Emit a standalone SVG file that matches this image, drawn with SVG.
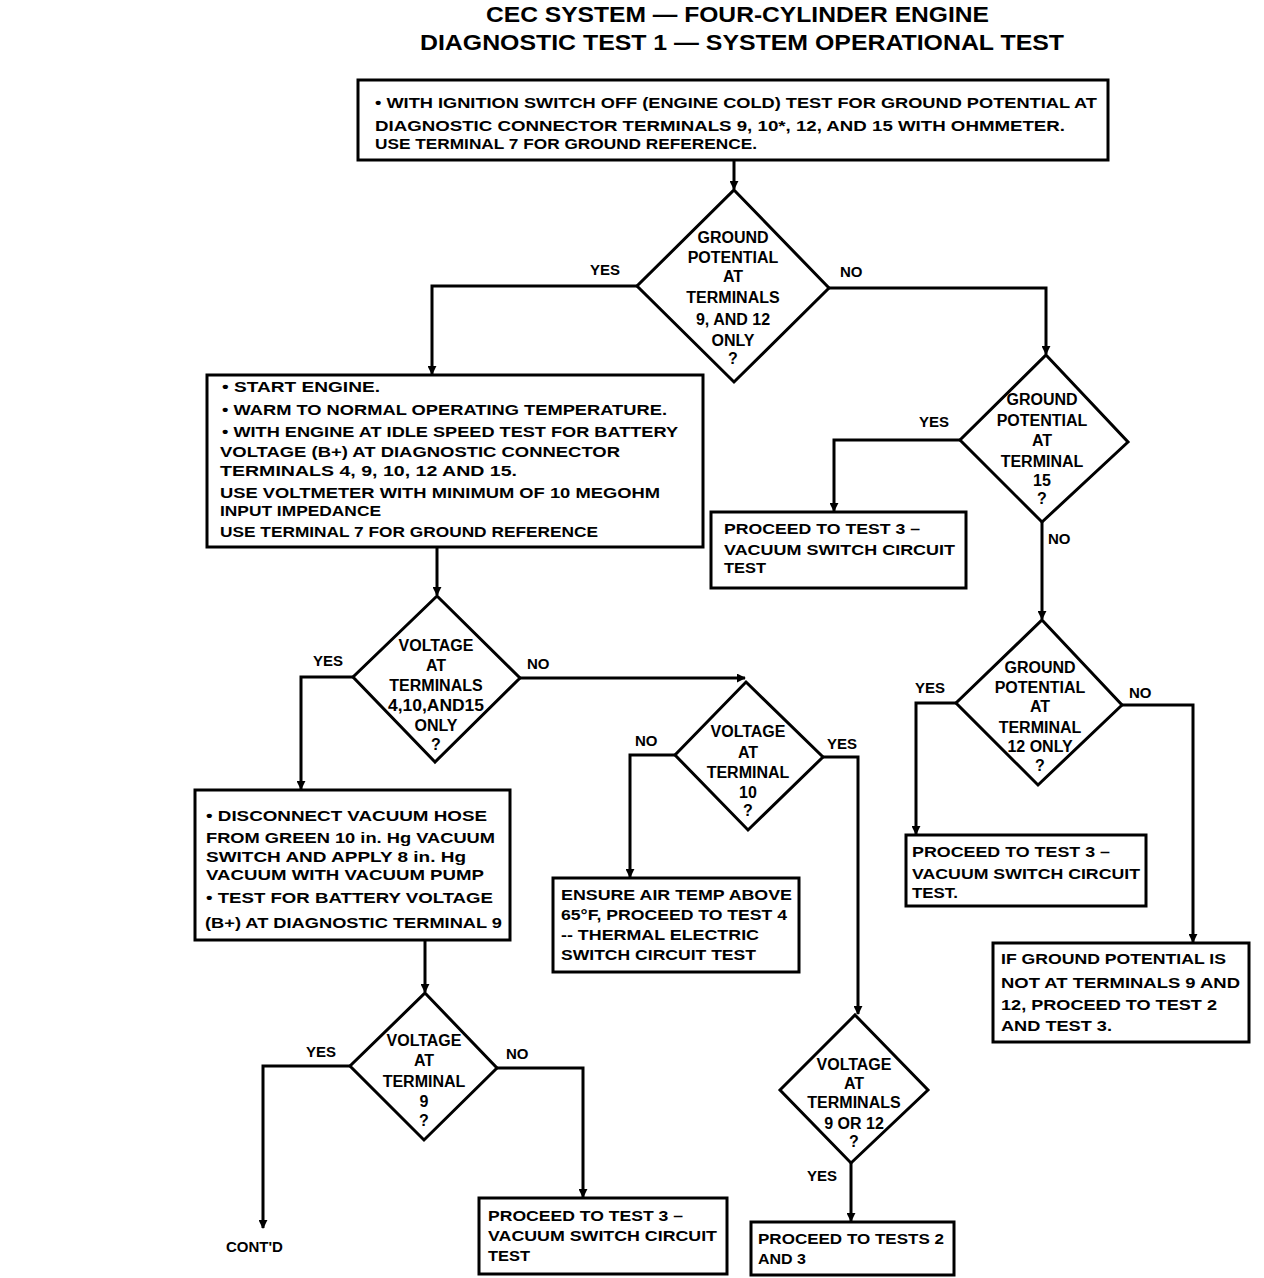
<svg xmlns="http://www.w3.org/2000/svg" width="1264" height="1278" viewBox="0 0 1264 1278">
<style>
.box{fill:#fff;stroke:#000;stroke-width:3}
.c{fill:none;stroke:#000;stroke-width:3;marker-end:url(#ah)}
text{font-family:"Liberation Sans",Arial,sans-serif;font-weight:bold;font-size:15px;fill:#000}
.ttl{font-size:22px}
.m{text-anchor:middle;font-size:16px}
</style>
<defs>
<marker id="ah" viewBox="0 0 10 10" refX="9" refY="5" markerWidth="3" markerHeight="3" orient="auto" markerUnits="strokeWidth"><path d="M0,0 L10,5 L0,10 z" fill="#000"/></marker>
</defs>
<rect width="1264" height="1278" fill="#fff"/>
<g id="title">
<text class="ttl" x="486" y="22" textLength="503" lengthAdjust="spacingAndGlyphs">CEC SYSTEM — FOUR-CYLINDER ENGINE</text>
<text class="ttl" x="420" y="50" textLength="644" lengthAdjust="spacingAndGlyphs">DIAGNOSTIC TEST 1 — SYSTEM OPERATIONAL TEST</text>
</g>
<g id="connectors">
<path class="c" d="M734,160 V189"/>
<path class="c" d="M637,286 H432 V374"/>
<path class="c" d="M829,288 H1046 V354"/>
<path class="c" d="M960,440 H834 V511"/>
<path class="c" d="M1042,522 V619"/>
<path class="c" d="M956,703 H916 V834"/>
<path class="c" d="M1122,705 H1193 V942"/>
<path class="c" d="M437,547 V595"/>
<path class="c" d="M353,677 H301 V789"/>
<path class="c" d="M520,678 H745"/>
<path class="c" d="M675,755 H630 V877"/>
<path class="c" d="M823,757 H858 V1014"/>
<path class="c" d="M851,1163 V1221"/>
<path class="c" d="M425,940 V992"/>
<path class="c" d="M350,1066 H263 V1228"/>
<path class="c" d="M497,1068 H583 V1197"/>
<text x="590" y="275">YES</text>
<text x="840" y="277">NO</text>
<text x="919" y="427">YES</text>
<text x="1048" y="544">NO</text>
<text x="915" y="693">YES</text>
<text x="1129" y="698">NO</text>
<text x="313" y="666">YES</text>
<text x="527" y="669">NO</text>
<text x="635" y="746">NO</text>
<text x="827" y="749">YES</text>
<text x="807" y="1181">YES</text>
<text x="306" y="1057">YES</text>
<text x="506" y="1059">NO</text>
<text x="226" y="1252">CONT'D</text>
</g>
<g id="box1">
<rect class="box" x="358" y="80" width="750" height="80"/>
<text x="375" y="108" textLength="722" lengthAdjust="spacingAndGlyphs">•  WITH IGNITION SWITCH OFF (ENGINE COLD) TEST FOR GROUND POTENTIAL AT</text>
<text x="375" y="131" textLength="690" lengthAdjust="spacingAndGlyphs">DIAGNOSTIC CONNECTOR TERMINALS 9, 10*, 12, AND 15 WITH OHMMETER.</text>
<text x="375" y="149" textLength="382" lengthAdjust="spacingAndGlyphs">USE TERMINAL 7 FOR GROUND REFERENCE.</text>
</g>
<g id="d1">
<polygon class="box" points="734,190 829,288 734,382 637,286"/>
<text class="m" x="733" y="243">GROUND</text>
<text class="m" x="733" y="263">POTENTIAL</text>
<text class="m" x="733" y="282">AT</text>
<text class="m" x="733" y="303">TERMINALS</text>
<text class="m" x="733" y="325">9, AND 12</text>
<text class="m" x="733" y="346">ONLY</text>
<text class="m" x="733" y="364">?</text>
</g>
<g id="box2">
<rect class="box" x="207" y="375" width="496" height="172"/>
<text x="222" y="392" textLength="158" lengthAdjust="spacingAndGlyphs">•  START ENGINE.</text>
<text x="222" y="415" textLength="445" lengthAdjust="spacingAndGlyphs">•  WARM TO NORMAL OPERATING TEMPERATURE.</text>
<text x="222" y="437" textLength="456" lengthAdjust="spacingAndGlyphs">•  WITH ENGINE AT IDLE SPEED TEST FOR BATTERY</text>
<text x="220" y="457" textLength="400" lengthAdjust="spacingAndGlyphs">VOLTAGE (B+) AT DIAGNOSTIC CONNECTOR</text>
<text x="220" y="476" textLength="297" lengthAdjust="spacingAndGlyphs">TERMINALS 4, 9, 10, 12 AND 15.</text>
<text x="220" y="498" textLength="440" lengthAdjust="spacingAndGlyphs">USE VOLTMETER WITH MINIMUM OF 10 MEGOHM</text>
<text x="220" y="516" textLength="161" lengthAdjust="spacingAndGlyphs">INPUT IMPEDANCE</text>
<text x="220" y="537" textLength="378" lengthAdjust="spacingAndGlyphs">USE TERMINAL 7 FOR GROUND REFERENCE</text>
</g>
<g id="d2">
<polygon class="box" points="1046,355 1128,442 1042,522 960,440"/>
<text class="m" x="1042" y="405">GROUND</text>
<text class="m" x="1042" y="426">POTENTIAL</text>
<text class="m" x="1042" y="446">AT</text>
<text class="m" x="1042" y="467">TERMINAL</text>
<text class="m" x="1042" y="486">15</text>
<text class="m" x="1042" y="504">?</text>
</g>
<g id="box3">
<rect class="box" x="711" y="512" width="255" height="76"/>
<text x="724" y="534" textLength="196" lengthAdjust="spacingAndGlyphs">PROCEED TO TEST 3 –</text>
<text x="724" y="555" textLength="231" lengthAdjust="spacingAndGlyphs">VACUUM SWITCH CIRCUIT</text>
<text x="724" y="573" textLength="42" lengthAdjust="spacingAndGlyphs">TEST</text>
</g>
<g id="d3">
<polygon class="box" points="1042,620 1122,705 1038,785 956,703"/>
<text class="m" x="1040" y="673">GROUND</text>
<text class="m" x="1040" y="693">POTENTIAL</text>
<text class="m" x="1040" y="712">AT</text>
<text class="m" x="1040" y="733">TERMINAL</text>
<text class="m" x="1040" y="752">12 ONLY</text>
<text class="m" x="1040" y="771">?</text>
</g>
<g id="box4">
<rect class="box" x="906" y="835" width="240" height="71"/>
<text x="912" y="857" textLength="198" lengthAdjust="spacingAndGlyphs">PROCEED TO TEST 3 –</text>
<text x="912" y="879" textLength="228" lengthAdjust="spacingAndGlyphs">VACUUM SWITCH CIRCUIT</text>
<text x="912" y="898" textLength="46" lengthAdjust="spacingAndGlyphs">TEST.</text>
</g>
<g id="box5">
<rect class="box" x="993" y="943" width="256" height="99"/>
<text x="1001" y="964" textLength="225" lengthAdjust="spacingAndGlyphs">IF GROUND POTENTIAL IS</text>
<text x="1001" y="988" textLength="239" lengthAdjust="spacingAndGlyphs">NOT AT TERMINALS 9 AND</text>
<text x="1001" y="1010" textLength="216" lengthAdjust="spacingAndGlyphs">12, PROCEED TO TEST 2</text>
<text x="1001" y="1031" textLength="111" lengthAdjust="spacingAndGlyphs">AND TEST 3.</text>
</g>
<g id="d4">
<polygon class="box" points="437,596 520,678 435,762 353,677"/>
<text class="m" x="436" y="651">VOLTAGE</text>
<text class="m" x="436" y="671">AT</text>
<text class="m" x="436" y="691">TERMINALS</text>
<text class="m" x="436" y="711" textLength="96" lengthAdjust="spacingAndGlyphs">4,10,AND15</text>
<text class="m" x="436" y="731">ONLY</text>
<text class="m" x="436" y="750">?</text>
</g>
<g id="box6">
<rect class="box" x="195" y="790" width="315" height="150"/>
<text x="206" y="821" textLength="281" lengthAdjust="spacingAndGlyphs">•  DISCONNECT VACUUM HOSE</text>
<text x="206" y="843" textLength="289" lengthAdjust="spacingAndGlyphs">FROM GREEN 10 in. Hg VACUUM</text>
<text x="206" y="862" textLength="260" lengthAdjust="spacingAndGlyphs">SWITCH AND APPLY  8 in. Hg</text>
<text x="206" y="880" textLength="278" lengthAdjust="spacingAndGlyphs">VACUUM WITH VACUUM PUMP</text>
<text x="206" y="903" textLength="287" lengthAdjust="spacingAndGlyphs">•  TEST FOR BATTERY VOLTAGE</text>
<text x="205" y="928" textLength="297" lengthAdjust="spacingAndGlyphs">(B+) AT DIAGNOSTIC TERMINAL 9</text>
</g>
<g id="d5">
<polygon class="box" points="746,682 823,757 748,830 675,755"/>
<text class="m" x="748" y="737">VOLTAGE</text>
<text class="m" x="748" y="758">AT</text>
<text class="m" x="748" y="778">TERMINAL</text>
<text class="m" x="748" y="798">10</text>
<text class="m" x="748" y="816">?</text>
</g>
<g id="box7">
<rect class="box" x="553" y="878" width="246" height="94"/>
<text x="561" y="900" textLength="231" lengthAdjust="spacingAndGlyphs">ENSURE AIR TEMP  ABOVE</text>
<text x="561" y="920" textLength="226" lengthAdjust="spacingAndGlyphs">65°F, PROCEED TO TEST 4</text>
<text x="561" y="940" textLength="198" lengthAdjust="spacingAndGlyphs">-- THERMAL ELECTRIC</text>
<text x="561" y="960" textLength="195" lengthAdjust="spacingAndGlyphs">SWITCH CIRCUIT TEST</text>
</g>
<g id="d6">
<polygon class="box" points="855,1015 928,1090 851,1163 780,1090"/>
<text class="m" x="854" y="1070">VOLTAGE</text>
<text class="m" x="854" y="1089">AT</text>
<text class="m" x="854" y="1108">TERMINALS</text>
<text class="m" x="854" y="1129">9 OR 12</text>
<text class="m" x="854" y="1147">?</text>
</g>
<g id="box8">
<rect class="box" x="751" y="1222" width="203" height="53"/>
<text x="758" y="1244" textLength="186" lengthAdjust="spacingAndGlyphs">PROCEED TO TESTS 2</text>
<text x="758" y="1264" textLength="48" lengthAdjust="spacingAndGlyphs">AND 3</text>
</g>
<g id="d7">
<polygon class="box" points="425,993 497,1068 424,1140 350,1066"/>
<text class="m" x="424" y="1046">VOLTAGE</text>
<text class="m" x="424" y="1066">AT</text>
<text class="m" x="424" y="1087">TERMINAL</text>
<text class="m" x="424" y="1107">9</text>
<text class="m" x="424" y="1126">?</text>
</g>
<g id="box9">
<rect class="box" x="479" y="1198" width="248" height="76"/>
<text x="488" y="1221" textLength="195" lengthAdjust="spacingAndGlyphs">PROCEED TO TEST 3 –</text>
<text x="488" y="1241" textLength="229" lengthAdjust="spacingAndGlyphs">VACUUM SWITCH CIRCUIT</text>
<text x="488" y="1261" textLength="42" lengthAdjust="spacingAndGlyphs">TEST</text>
</g>
</svg>
